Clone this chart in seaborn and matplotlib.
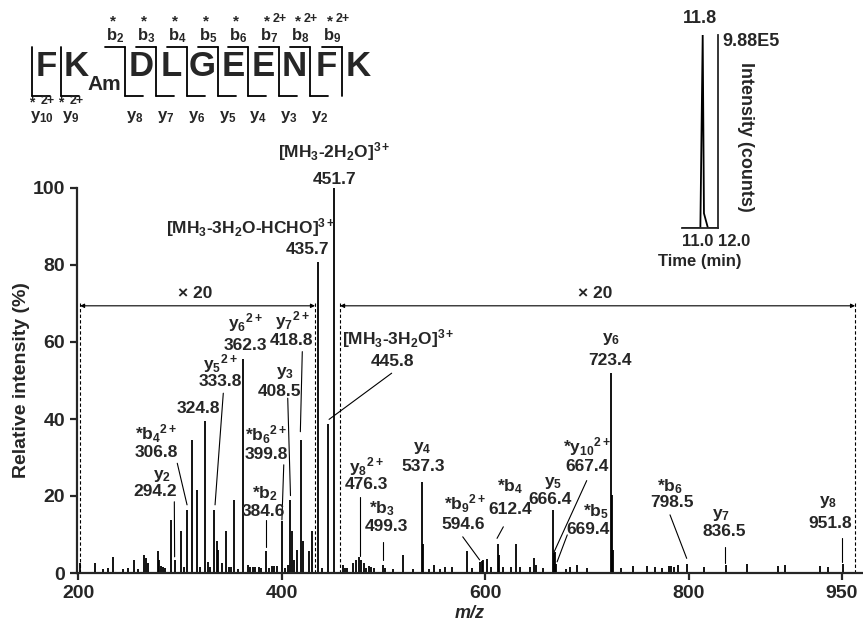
import numpy as np
import matplotlib
matplotlib.use("Agg")
import matplotlib.pyplot as plt
import seaborn as sns

# peak list (m/z, relative intensity %, x20 regions already scaled)
mz = [201.9, 216.6, 224.8, 229.7, 234.6, 244.4, 249.3, 254.9, 259.1, 264.7,
      266.7, 268.4, 278.2, 279.8, 281.4, 283.7, 285.4, 291.5, 294.8, 301.5,
      304.3, 306.8, 311.6, 316.5, 319.7, 324.8, 327.3, 329.6, 333.8, 336.1,
      337.7, 341.1, 345.3, 348.5, 350.5, 353.5, 357.0, 362.3, 366.6, 369.0,
      371.4, 373.7, 377.6, 379.6, 384.6, 387.9, 390.2, 392.8, 395.7, 399.8,
      403.2, 405.8, 408.5, 410.4, 411.8, 414.7, 418.8, 420.5, 426.8, 429.5,
      435.7, 440.0, 445.8, 451.7, 460.5, 462.5, 464.5, 470.3, 472.5, 476.3,
      478.3, 480.5, 482.5, 485.5, 488.0, 491.0, 499.3, 501.0, 509.6, 519.5,
      529.3, 537.3, 538.3, 544.7, 549.6, 555.5, 560.4, 567.0, 581.7, 586.6,
      594.6, 596.3, 598.0, 602.0, 605.5, 612.4, 613.6, 617.5, 625.2, 629.8,
      634.5, 643.9, 647.8, 649.5, 656.4, 666.4, 667.4, 668.3, 669.4, 679.0,
      683.2, 689.8, 699.6, 723.4, 724.5, 725.5, 733.5, 745.4, 758.5, 766.7,
      773.3, 780.0, 782.6, 785.5, 789.6, 798.5, 814.8, 836.5, 856.8, 887.2,
      894.7, 928.8, 937.0, 951.8]
intensity = [2.7, 2.7, 1.0, 1.4, 4.2, 1.0, 1.4, 3.5, 1.0, 4.8,
             3.8, 2.5, 5.7, 3.4, 1.9, 1.6, 1.4, 13.8, 3.3, 11.0,
             1.6, 16.4, 34.5, 21.6, 1.6, 39.6, 2.9, 1.6, 16.4, 8.3,
             6.0, 2.5, 11.0, 1.5, 1.5, 19.0, 1.0, 55.5, 2.1, 1.5,
             1.5, 1.5, 1.5, 1.2, 5.8, 1.2, 1.7, 1.7, 1.7, 13.6,
             1.2, 2.1, 19.0, 11.0, 3.5, 6.0, 34.5, 8.3, 5.8, 11.0,
             80.8, 1.2, 38.6, 100.0, 2.1, 1.2, 1.2, 2.5, 3.5, 4.1,
             3.4, 2.5, 1.2, 1.8, 1.5, 1.2, 2.1, 1.2, 1.0, 4.7,
             1.0, 23.7, 7.5, 1.0, 2.1, 1.0, 1.5, 1.5, 5.8, 1.2,
             2.8, 3.1, 3.4, 3.6, 1.5, 7.5, 4.7, 1.5, 1.5, 7.5,
             1.5, 1.5, 3.8, 2.1, 1.2, 16.4, 5.3, 5.5, 2.3, 1.0,
             1.5, 2.1, 1.2, 52.0, 20.3, 6.0, 1.3, 1.7, 1.9, 1.5,
             1.3, 1.7, 1.9, 1.5, 2.2, 2.3, 1.5, 2.2, 2.4, 1.9,
             2.2, 1.9, 1.5, 2.4]

# peak labels: ion name, m/z text, text positions and leader lines
label_text = [
    (r"[MH$_3$-2H$_2$O]$^{3+}$", "451.7"),
    (r"[MH$_3$-3H$_2$O-HCHO]$^{3+}$", "435.7"),
    (r"[MH$_3$-3H$_2$O]$^{3+}$", "445.8"),
    (r"$\mathrm{y_6}^{2+}$", "362.3"),
    (r"$\mathrm{y_7}^{2+}$", "418.8"),
    (r"$\mathrm{y_5}^{2+}$", "333.8"),
    ("", "324.8"),
    (r"*$\mathrm{b_4}^{2+}$", "306.8"),
    (r"$\mathrm{y_2}$", "294.2"),
    (r"$\mathrm{y_3}$", "408.5"),
    (r"*$\mathrm{b_6}^{2+}$", "399.8"),
    (r"*$\mathrm{b_2}$", "384.6"),
    (r"$\mathrm{y_8}^{2+}$", "476.3"),
    (r"*$\mathrm{b_3}$", "499.3"),
    (r"$\mathrm{y_4}$", "537.3"),
    (r"*$\mathrm{b_9}^{2+}$", "594.6"),
    (r"*$\mathrm{b_4}$", "612.4"),
    (r"$\mathrm{y_5}$", "666.4"),
    (r"*$\mathrm{y_{10}}^{2+}$", "667.4"),
    (r"*$\mathrm{b_5}$", "669.4"),
    (r"$\mathrm{y_6}$", "723.4"),
    (r"*$\mathrm{b_6}$", "798.5"),
    (r"$\mathrm{y_7}$", "836.5"),
    (r"$\mathrm{y_8}$", "951.8"),
]
label_x1 = [451.7, 370.0, 514.0, 364.0, 410.0, 339.5, 318.0, 277.0, 282.0, 403.0,
            385.0, 383.6, 483.5, 498.0, 538.5, 580.0, 624.0, 667.0, 700.0, 709.0,
            724.0, 781.5, 832.0, 937.0]
label_x2 = [451.7, 425.0, 509.0, 364.0, 410.0, 339.5, 318.0, 277.0, 275.5, 398.0,
            385.0, 381.6, 483.5, 503.0, 539.0, 578.5, 624.0, 663.6, 700.0, 701.0,
            722.5, 783.0, 834.5, 938.6]
label_y1 = [109.4, 89.6, 60.8, 65.0, 65.7, 54.5, 42.6, 36.1, 25.3, 51.9,
            35.8, 20.7, 27.6, 16.8, 32.4, 17.9, 22.4, 23.3, 32.8, 15.9,
            60.7, 22.4, 15.1, 18.5]
label_y2 = [102.3, 83.9, 54.9, 59.2, 60.5, 49.7, 42.6, 31.3, 21.1, 47.1,
            30.9, 15.9, 23.1, 12.0, 27.6, 12.6, 16.4, 19.0, 27.6, 11.2,
            55.3, 18.3, 10.7, 12.9]
leaders = [None, None, [(508.0, 51.9), (446.5, 39.9)], None,
           [(420.2, 57.5), (418.3, 36.7)], [(342.6, 46.7), (334.5, 17.7)], None,
           [(297.4, 28.5), (307.0, 17.7)], [(294.5, 18.5), (294.8, 4.2)],
           [(405.9, 45.4), (408.6, 20.1)], [(402.0, 28.1), (400.2, 13.8)],
           [(384.6, 13.8), (384.6, 6.8)], [(477.0, 19.8), (477.0, 4.4)],
           [(499.3, 8.1), (499.3, 3.5)], None, [(577.8, 9.4), (594.4, 3.4)],
           [(617.7, 12.0), (611.5, 9.0)], None, [(699.6, 24.0), (667.6, 5.5)],
           [(680.5, 9.9), (670.5, 2.9)], None, [(781.4, 15.1), (797.8, 3.8)],
           [(835.5, 6.8), (835.5, 2.5)], [(950.5, 9.0), (950.5, 2.9)]]

# x20 magnified ranges
zoom_ranges = [(201.9, 432.7), (457.3, 963.2)]
zoom_text_x = [315.0, 707.8]

x_ticks = [200, 400, 600, 800, 950]
y_ticks = [0, 20, 40, 60, 80, 100]

# inset chromatogram
rt = [11.0, 11.51, 11.575, 11.61, 11.72, 12.0]
counts = [0, 0, 9.88e5, 7.5e4, 0, 0]

# peptide sequence map
residues = ["F", "K", "D", "L", "G", "E", "E", "N", "F", "K"]
b_ions = [r"$\mathrm{b_2}$", r"$\mathrm{b_3}$", r"$\mathrm{b_4}$", r"$\mathrm{b_5}$",
          r"$\mathrm{b_6}$", r"$\mathrm{b_7}$", r"$\mathrm{b_8}$", r"$\mathrm{b_9}$"]
b_charge = ["", "", "", "", "", "2+", "2+", "2+"]
y_ions = [r"$\mathrm{y_{10}}$", r"$\mathrm{y_9}$", r"$\mathrm{y_8}$", r"$\mathrm{y_7}$",
          r"$\mathrm{y_6}$", r"$\mathrm{y_5}$", r"$\mathrm{y_4}$", r"$\mathrm{y_3}$",
          r"$\mathrm{y_2}$"]
y_charge = ["2+", "2+", "", "", "", "", "", "", ""]

sns.set_style("ticks")
plt.rcParams["font.family"] = ["Liberation Sans", "DejaVu Sans"]
plt.rcParams["font.weight"] = "bold"
plt.rcParams["mathtext.fontset"] = "custom"
plt.rcParams["mathtext.rm"] = "Liberation Sans:bold"
plt.rcParams["mathtext.it"] = "Liberation Sans:italic:bold"
plt.rcParams["mathtext.bf"] = "Liberation Sans:bold"
plt.rcParams["axes.linewidth"] = 1.6

W, H = 863, 630
fig = plt.figure(figsize=(W / 100, H / 100), dpi=100)
ax = fig.add_axes([77 / W, 1 - 573 / H, (862 - 77) / W, (573 - 188) / H])

ax.vlines(mz, 0, intensity, color="black", lw=1.3)
ax.set_xlim(198.9, 970)
ax.set_ylim(0, 100)
ax.set_xticks(x_ticks)
ax.set_yticks(y_ticks)
ax.tick_params(labelsize=14, width=1.6, length=5, direction="out")
for t in ax.get_xticklabels() + ax.get_yticklabels():
    t.set_fontweight("bold")
ax.set_xlabel("m/z", fontsize=13, fontstyle="italic", fontweight="bold", labelpad=2)
ax.set_ylabel("Relative intensity (%)", fontsize=14, fontweight="bold")
ax.yaxis.set_label_coords(-0.06, 0.5)
sns.despine(ax=ax)

fs = 12.5
for (t1, t2), x1, x2, y1, y2, ld in zip(label_text, label_x1, label_x2, label_y1, label_y2, leaders):
    if t1:
        ax.text(x1, y1, t1, ha="center", va="center", fontsize=fs, fontweight="bold", clip_on=False)
    ax.text(x2, y2, t2, ha="center", va="center", fontsize=fs, fontweight="bold", clip_on=False)
    if ld is not None:
        ax.plot([ld[0][0], ld[1][0]], [ld[0][1], ld[1][1]], color="black", lw=0.8)

for (lo, hi), tx in zip(zoom_ranges, zoom_text_x):
    ax.vlines([lo, hi], 0, 70.5, colors="black", linestyles=(0, (3, 2)), lw=0.8)
    ax.annotate("", xy=(lo, 69.4), xytext=(hi, 69.4),
                arrowprops=dict(arrowstyle="<|-|>", color="black", lw=0.8,
                                mutation_scale=6, shrinkA=0, shrinkB=0))
    ax.text(tx, 72.7, "× 20", ha="center", va="center", fontsize=fs, fontweight="bold")

# inset chromatogram
axi = fig.add_axes([682 / W, 1 - 228 / H, 36 / W, (228 - 35) / H])
sns.lineplot(x=rt, y=counts, ax=axi, color="black", lw=1.3)
axi.set_xlim(11.0, 12.0)
axi.set_ylim(0, 9.88e5)
axi.set_xticks([11.0, 12.0])
axi.set_xticklabels(["11.0", "12.0"], fontsize=12, fontweight="bold", ha="left")
axi.tick_params(axis="x", length=0, pad=4)
axi.set_yticks([])
axi.set_xlabel("Time (min)", fontsize=12, fontweight="bold", labelpad=4)
axi.spines["left"].set_visible(False)
axi.spines["top"].set_visible(False)
axi.spines["right"].set_linewidth(1.3)
axi.spines["bottom"].set_linewidth(1.3)
axi.patch.set_alpha(0)
axi.text(11.5, 1.07e6, "11.8", ha="center", va="center", fontsize=13, fontweight="bold", clip_on=False)
axi.text(1.12, 0.965, "9.88E5", transform=axi.transAxes, ha="left", va="center",
         fontsize=13, fontweight="bold")
axi.text(1.75, 0.47, "Intensity (counts)", transform=axi.transAxes, ha="center", va="center",
         rotation=270, fontsize=13, fontweight="bold")

# peptide sequence map in pixel coordinates
axs = fig.add_axes([0, 0, 1, 1])
axs.set_xlim(0, W)
axs.set_ylim(H, 0)
axs.axis("off")
res_x = [46, 76, 141, 171, 202, 233, 263, 294, 326, 358]
cut_x = [32, 61, 125, 156, 187, 218, 248, 279, 310, 342]
for r, x in zip(residues, res_x):
    axs.text(x, 66, r, ha="center", va="center", fontsize=25, fontweight="bold")
axs.text(104, 84, "Am", ha="center", va="center", fontsize=15, fontweight="bold")
for i, cx in enumerate(cut_x):
    axs.plot([cx, cx], [47, 96], color="black", lw=1.3)
    if i >= 2:
        axs.plot([cx - 20, cx], [47, 47], color="black", lw=1.3)
        axs.text(cx - 10, 36, b_ions[i - 2], ha="center", va="center", fontsize=12, fontweight="bold")
        axs.text(cx - 12, 21, "*", ha="center", va="center", fontsize=11, fontweight="bold")
        if b_charge[i - 2]:
            axs.text(cx + 1, 19, b_charge[i - 2], ha="center", va="center", fontsize=9, fontweight="bold")
    if i <= 8:
        axs.plot([cx, cx + 18], [96, 96], color="black", lw=1.3)
        axs.text(cx + 10, 117, y_ions[i], ha="center", va="center", fontsize=12, fontweight="bold")
        if y_charge[i]:
            axs.text(cx, 102, "*", ha="center", va="center", fontsize=10, fontweight="bold")
            axs.text(cx + 16, 101, y_charge[i], ha="center", va="center", fontsize=9, fontweight="bold")

fig.savefig("out.png", dpi=100)
